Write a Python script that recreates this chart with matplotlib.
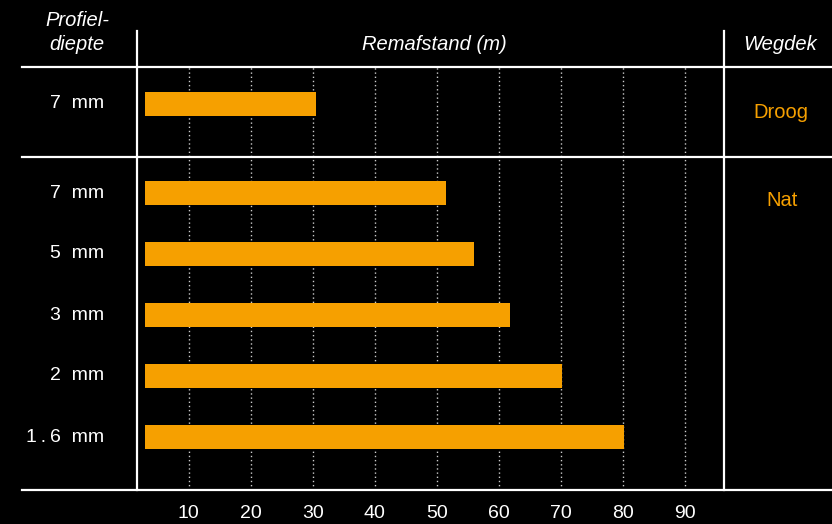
import matplotlib
matplotlib.use("Agg")
import matplotlib.pyplot as plt
from matplotlib.lines import Line2D

# Data
conditions = ["Droog", "Nat", "Nat", "Nat", "Nat", "Nat"]
row_labels = ["7  mm", "7  mm", "5  mm", "3  mm", "2  mm", "1\u2009.\u20096  mm"]
distances = [30.5, 51.5, 56.0, 61.8, 70.2, 80.2]
tick_values = [10, 20, 30, 40, 50, 60, 70, 80, 90]
header_left = "Profiel-\ndiepte"
header_mid = "Remafstand (m)"
header_right = "Wegdek"

BAR_START = 3.0
ORANGE = "#F6A000"
W, H = 832, 524

plt.rcParams['font.family'] = ['Liberation Sans', 'DejaVu Sans']
fig = plt.figure(figsize=(W / 100, H / 100), dpi=100, facecolor="black")

def fx(px):
    return px / W

def fy(py):
    return 1 - py / H

ax = fig.add_axes([fx(137), fy(490), fx(724) - fx(137), fy(67) - fy(490)])
ax.set_facecolor("black")

gap = 89 / 61
positions = [0] + [gap + i for i in range(5)]
lengths = [d - BAR_START for d in distances]
ax.barh(positions, lengths, left=BAR_START, height=24 / 61, color=ORANGE, zorder=3)

ax.set_xlim((137 - 126.7) / 6.2, (724 - 126.7) / 6.2)
ax.set_ylim(gap + 4 + (490 - 437) / 61, -(104 - 67) / 61)

for v in tick_values:
    ax.axvline(v, color="#cccccc", lw=1.0, ls=(0, (1, 2)), zorder=1)

for s in ax.spines.values():
    s.set_visible(False)
ax.set_xticks([])
ax.set_yticks([])

FS = 14

# tick labels
for v in tick_values:
    ax.annotate(str(v), xy=(v, 0), xycoords=("data", "axes fraction"),
                xytext=(0, -24), textcoords="offset pixels",
                ha="center", va="center", color="white", fontsize=FS,
                fontweight="normal")

# row labels
for p, lab in zip(positions, row_labels):
    ax.annotate(lab, xy=(0, p), xycoords=("figure fraction", "data"),
                xytext=(104, 0), textcoords="offset pixels",
                ha="right", va="center", color="white", fontsize=FS,
                fontweight="normal")

# condition labels
ax.annotate(conditions[0], xy=(0, positions[0]), xycoords=("figure fraction", "data"),
            xytext=(781, -9), textcoords="offset pixels",
            ha="center", va="center", color=ORANGE, fontsize=FS + 0.5)
ax.annotate(conditions[1], xy=(0, positions[1]), xycoords=("figure fraction", "data"),
            xytext=(782, -8), textcoords="offset pixels",
            ha="center", va="center", color=ORANGE, fontsize=FS + 0.5)

# headers
fig.text(fx(77), fy(20), header_left.split("\n")[0], ha="center", va="center",
         color="white", fontsize=14.5, style="italic")
fig.text(fx(77), fy(45), header_left.split("\n")[1], ha="center", va="center",
         color="white", fontsize=14.5, style="italic")
fig.text(fx(434), fy(45), header_mid, ha="center", va="center", color="white",
         fontsize=14.5, style="italic")
fig.text(fx(780), fy(45), header_right, ha="center", va="center", color="white",
         fontsize=14.5, style="italic")

# table lines
lw = 1.6
fig.add_artist(Line2D([fx(22), 1], [fy(67), fy(67)], color="white", lw=lw))
fig.add_artist(Line2D([fx(22), 1], [fy(157), fy(157)], color="white", lw=lw))
fig.add_artist(Line2D([fx(22), 1], [fy(490), fy(490)], color="white", lw=lw))
fig.add_artist(Line2D([fx(137), fx(137)], [fy(31), fy(490)], color="white", lw=lw))
fig.add_artist(Line2D([fx(724), fx(724)], [fy(31), fy(490)], color="white", lw=lw))

fig.savefig("out.png", dpi=100, facecolor="black")
